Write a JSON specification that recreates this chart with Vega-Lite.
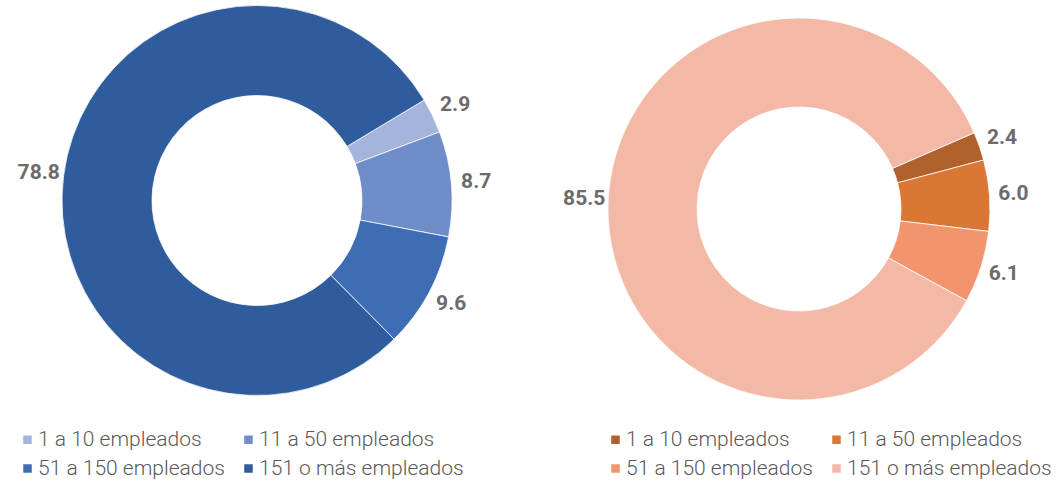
{
  "$schema": "https://vega.github.io/schema/vega-lite/v6.json",
  "padding": 0,
  "autosize": {"type": "pad"},
  "spacing": 28,
  "config": {"view": {"stroke": null}, "font": "Roboto"},
  "datasets": {
    "izq": [
      {"cat": "1 a 10 empleados", "valor": 2.9, "orden": 1},
      {"cat": "11 a 50 empleados", "valor": 8.7, "orden": 2},
      {"cat": "51 a 150 empleados", "valor": 9.6, "orden": 3},
      {"cat": "151 o más empleados", "valor": 78.8, "orden": 4}
    ],
    "der": [
      {"cat": "1 a 10 empleados", "valor": 2.4, "orden": 1},
      {"cat": "11 a 50 empleados", "valor": 6.0, "orden": 2},
      {"cat": "51 a 150 empleados", "valor": 6.1, "orden": 3},
      {"cat": "151 o más empleados", "valor": 85.5, "orden": 4}
    ]
  },
  "hconcat": [
    {
      "width": 514,
      "height": 401,
      "data": {"name": "izq"},
      "layer": [
        {
          "mark": {"type": "arc", "outerRadius": 195, "innerRadius": 105, "stroke": "white", "strokeWidth": 0.75},
          "encoding": {
            "theta": {"field": "valor", "type": "quantitative", "stack": true, "scale": {"range": [1.0297, 7.3129]}},
            "order": {"field": "orden", "type": "quantitative"},
            "color": {
              "field": "cat", "type": "nominal",
              "sort": ["1 a 10 empleados", "51 a 150 empleados", "11 a 50 empleados", "151 o más empleados"],
              "scale": {"domain": ["1 a 10 empleados", "51 a 150 empleados", "11 a 50 empleados", "151 o más empleados"], "range": ["#A5B4DA", "#3F6DB4", "#6F8DC8", "#2F5C9D"]},
              "legend": {"title": null, "orient": "none", "legendX": 17, "legendY": 429, "columns": 2, "symbolType": "square", "symbolSize": 72, "symbolStrokeWidth": 0, "labelFontSize": 21, "labelFont": "Roboto", "labelFontWeight": 300, "labelColor": "#595959", "labelOffset": 0, "columnPadding": 13, "rowPadding": 7, "padding": 0, "labelLimit": 400}
            }
          }
        },
        {
          "mark": {"type": "text", "radius": 220, "font": "Roboto", "fontWeight": "bold", "fontSize": 21, "color": "#6b6b6b"},
          "encoding": {
            "theta": {"field": "valor", "type": "quantitative", "stack": true},
            "order": {"field": "orden", "type": "quantitative"},
            "detail": {"field": "cat", "type": "nominal"},
            "text": {"field": "valor", "type": "quantitative", "format": ".1f"}
          }
        }
      ]
    },
    {
      "width": 514,
      "height": 418,
      "data": {"name": "der"},
      "layer": [
        {
          "mark": {"type": "arc", "outerRadius": 191, "innerRadius": 102, "stroke": "white", "strokeWidth": 0.75},
          "encoding": {
            "theta": {"field": "valor", "type": "quantitative", "stack": true, "scale": {"range": [1.1606, 7.4438]}},
            "order": {"field": "orden", "type": "quantitative"},
            "color": {
              "field": "cat", "type": "nominal",
              "sort": ["1 a 10 empleados", "51 a 150 empleados", "11 a 50 empleados", "151 o más empleados"],
              "scale": {"domain": ["1 a 10 empleados", "51 a 150 empleados", "11 a 50 empleados", "151 o más empleados"], "range": ["#B0612C", "#F2956F", "#DA7734", "#F3B9A6"]},
              "legend": {"title": null, "orient": "none", "legendX": 63, "legendY": 429, "columns": 2, "symbolType": "square", "symbolSize": 72, "symbolStrokeWidth": 0, "labelFontSize": 21, "labelFont": "Roboto", "labelFontWeight": 300, "labelColor": "#595959", "labelOffset": 0, "columnPadding": 13, "rowPadding": 7, "padding": 0, "labelLimit": 400}
            }
          }
        },
        {
          "mark": {"type": "text", "radius": 215, "font": "Roboto", "fontWeight": "bold", "fontSize": 21, "color": "#6b6b6b"},
          "encoding": {
            "theta": {"field": "valor", "type": "quantitative", "stack": true},
            "order": {"field": "orden", "type": "quantitative"},
            "detail": {"field": "cat", "type": "nominal"},
            "text": {"field": "valor", "type": "quantitative", "format": ".1f"}
          }
        }
      ]
    }
  ],
  "resolve": {"scale": {"color": "independent", "theta": "independent"}, "legend": {"color": "independent"}}
}
